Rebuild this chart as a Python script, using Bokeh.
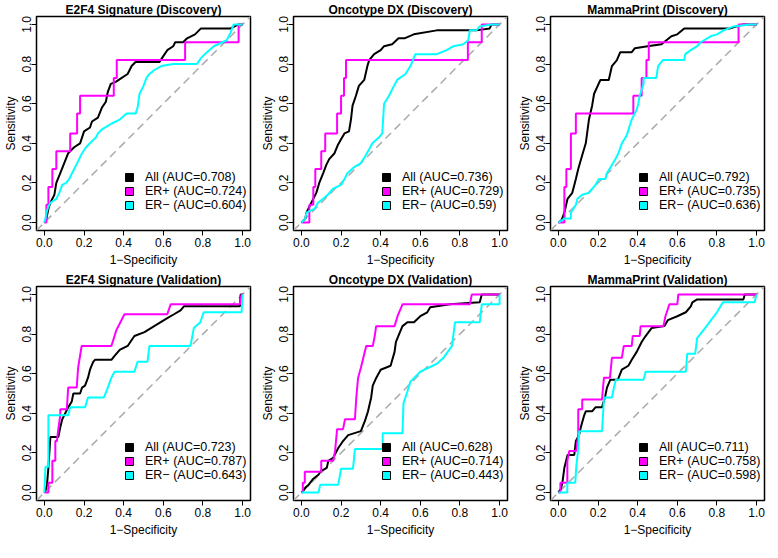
import numpy as np
from bokeh.plotting import figure
from bokeh.layouts import column, row
from bokeh.models import Legend, LegendItem, Slope, Range1d, FixedTicker, PrintfTickFormatter
from bokeh.embed import file_html
from bokeh.resources import INLINE

FONT = "Liberation Sans"
GROUP_NAMES = ["All", "ER+", "ER\u2212"]
GROUP_COLORS = ["black", "#ff00ff", "#00ffff"]
TICKS = [0.0, 0.2, 0.4, 0.6, 0.8, 1.0]

TITLES = [
    "E2F4 Signature (Discovery)", "Oncotype DX (Discovery)", "MammaPrint (Discovery)",
    "E2F4 Signature (Validation)", "Oncotype DX (Validation)", "MammaPrint (Validation)",
]
AUC_E2F4_DISC = ["0.708", "0.724", "0.604"]
AUC_ONCO_DISC = ["0.736", "0.729", "0.59"]
AUC_MAMMA_DISC = ["0.792", "0.735", "0.636"]
AUC_E2F4_VAL = ["0.723", "0.787", "0.643"]
AUC_ONCO_VAL = ["0.628", "0.714", "0.443"]
AUC_MAMMA_VAL = ["0.711", "0.758", "0.598"]

# ROC curves as (1-specificity, sensitivity) vertices
E2F4_DISC_ALL = [(0.0,0.0),(0.01,0.02),(0.02,0.07),(0.03,0.1),(0.05,0.14),(0.06,0.2),(0.08,0.25),(0.1,0.3),(0.12,0.35),(0.15,0.38),(0.18,0.4),(0.19,0.43),(0.2,0.46),(0.23,0.48),(0.24,0.51),(0.27,0.53),(0.29,0.58),(0.31,0.61),(0.32,0.66),(0.335,0.7),(0.36,0.71),(0.39,0.73),(0.42,0.75),(0.44,0.79),(0.46,0.81),(0.58,0.81),(0.6,0.84),(0.62,0.87),(0.65,0.89),(0.66,0.91),(0.7,0.91),(0.72,0.93),(0.76,0.95),(0.79,0.98),(0.94,0.98),(0.98,1.0),(1.0,1.0)]
E2F4_DISC_ERP = [(0.0,0.0),(0.01,0.0),(0.01,0.09),(0.02,0.09),(0.02,0.18),(0.04,0.18),(0.04,0.27),(0.06,0.27),(0.06,0.36),(0.13,0.36),(0.13,0.45),(0.165,0.45),(0.165,0.55),(0.18,0.55),(0.18,0.64),(0.35,0.64),(0.35,0.73),(0.365,0.73),(0.365,0.82),(0.71,0.82),(0.71,0.91),(0.98,0.91),(0.98,1.0),(1.0,1.0)]
E2F4_DISC_ERN = [(0.0,0.0),(0.005,0.02),(0.01,0.05),(0.02,0.08),(0.03,0.1),(0.06,0.12),(0.075,0.15),(0.09,0.19),(0.11,0.2),(0.125,0.22),(0.14,0.25),(0.16,0.29),(0.175,0.32),(0.19,0.35),(0.21,0.38),(0.23,0.4),(0.26,0.43),(0.27,0.45),(0.29,0.47),(0.34,0.5),(0.38,0.52),(0.415,0.55),(0.46,0.55),(0.47,0.58),(0.48,0.65),(0.5,0.69),(0.515,0.73),(0.53,0.75),(0.555,0.77),(0.59,0.79),(0.65,0.8),(0.77,0.8),(0.79,0.83),(0.82,0.86),(0.855,0.89),(0.92,0.92),(0.94,0.96),(0.955,1.0),(1.0,1.0)]

ONCO_DISC_ALL = [(0.0,0.0),(0.02,0.02),(0.025,0.05),(0.05,0.1),(0.075,0.15),(0.09,0.2),(0.11,0.25),(0.125,0.29),(0.14,0.32),(0.167,0.35),(0.183,0.39),(0.2,0.42),(0.217,0.45),(0.24,0.46),(0.25,0.52),(0.258,0.59),(0.275,0.64),(0.29,0.69),(0.317,0.72),(0.333,0.79),(0.342,0.82),(0.367,0.85),(0.4,0.87),(0.417,0.89),(0.458,0.9),(0.49,0.93),(0.52,0.93),(0.567,0.95),(0.683,0.97),(0.883,0.97),(0.95,0.98),(0.96,1.0),(1.0,1.0)]
ONCO_DISC_ERP = [(0.0,0.0),(0.04,0.0),(0.04,0.09),(0.06,0.09),(0.06,0.18),(0.07,0.18),(0.07,0.27),(0.1,0.27),(0.1,0.36),(0.12,0.36),(0.12,0.45),(0.18,0.45),(0.18,0.55),(0.2,0.55),(0.2,0.64),(0.215,0.64),(0.215,0.73),(0.225,0.73),(0.225,0.82),(0.84,0.82),(0.84,0.91),(0.91,0.91),(0.91,1.0),(1.0,1.0)]
ONCO_DISC_ERN = [(0.0,0.0),(0.02,0.02),(0.025,0.05),(0.067,0.07),(0.083,0.1),(0.11,0.12),(0.133,0.14),(0.158,0.17),(0.2,0.19),(0.217,0.22),(0.233,0.25),(0.267,0.28),(0.3,0.3),(0.325,0.34),(0.342,0.37),(0.358,0.4),(0.392,0.43),(0.408,0.45),(0.417,0.6),(0.442,0.64),(0.467,0.69),(0.483,0.72),(0.525,0.75),(0.55,0.79),(0.575,0.85),(0.683,0.85),(0.733,0.87),(0.767,0.89),(0.817,0.9),(0.842,0.92),(0.85,0.97),(0.883,0.97),(0.9,0.99),(0.958,1.0),(1.0,1.0)]

MAMMA_DISC_ALL = [(0.0,0.0),(0.015,0.01),(0.03,0.05),(0.046,0.12),(0.07,0.15),(0.088,0.22),(0.1,0.27),(0.12,0.34),(0.138,0.4),(0.154,0.52),(0.17,0.59),(0.18,0.65),(0.212,0.72),(0.254,0.72),(0.27,0.79),(0.295,0.82),(0.312,0.86),(0.37,0.86),(0.386,0.88),(0.45,0.89),(0.52,0.9),(0.57,0.94),(0.6,0.95),(0.635,0.98),(0.867,0.98),(0.93,1.0),(1.0,1.0)]
MAMMA_DISC_ERP = [(0.0,0.0),(0.03,0.0),(0.03,0.18),(0.04,0.18),(0.04,0.27),(0.063,0.27),(0.063,0.45),(0.088,0.45),(0.088,0.55),(0.378,0.55),(0.378,0.64),(0.42,0.64),(0.42,0.73),(0.444,0.73),(0.444,0.82),(0.456,0.82),(0.456,0.91),(0.909,0.91),(0.909,1.0),(1.0,1.0)]
MAMMA_DISC_ERN = [(0.0,0.0),(0.03,0.02),(0.063,0.02),(0.063,0.05),(0.088,0.09),(0.096,0.12),(0.12,0.14),(0.154,0.15),(0.187,0.19),(0.204,0.22),(0.237,0.22),(0.245,0.25),(0.27,0.29),(0.287,0.32),(0.303,0.35),(0.32,0.4),(0.345,0.44),(0.36,0.49),(0.37,0.52),(0.395,0.57),(0.403,0.6),(0.41,0.64),(0.43,0.7),(0.43,0.73),(0.494,0.73),(0.503,0.79),(0.527,0.82),(0.635,0.82),(0.64,0.85),(0.668,0.87),(0.7,0.89),(0.718,0.91),(0.768,0.94),(0.8,0.95),(0.834,0.97),(0.884,0.99),(0.967,1.0),(1.0,1.0)]

E2F4_VAL_ALL = [(0.0,0.0),(0.005,0.01),(0.013,0.04),(0.02,0.125),(0.03,0.28),(0.07,0.28),(0.08,0.33),(0.09,0.37),(0.105,0.4),(0.12,0.43),(0.138,0.46),(0.146,0.5),(0.18,0.5),(0.19,0.53),(0.205,0.54),(0.22,0.58),(0.23,0.62),(0.246,0.66),(0.255,0.67),(0.338,0.67),(0.354,0.69),(0.38,0.72),(0.42,0.74),(0.454,0.79),(0.505,0.81),(0.554,0.84),(0.587,0.86),(0.62,0.88),(0.654,0.9),(0.687,0.92),(0.704,0.94),(0.987,0.94),(0.99,1.0),(1.0,1.0)]
E2F4_VAL_ERP = [(0.0,0.0),(0.02,0.0),(0.02,0.05),(0.04,0.05),(0.04,0.16),(0.055,0.16),(0.055,0.26),(0.063,0.26),(0.07,0.32),(0.08,0.39),(0.08,0.42),(0.113,0.42),(0.12,0.53),(0.163,0.53),(0.17,0.63),(0.188,0.74),(0.338,0.74),(0.363,0.82),(0.404,0.9),(0.62,0.9),(0.637,0.95),(0.987,0.95),(0.995,1.0),(1.0,1.0)]
E2F4_VAL_ERN = [(0.0,0.0),(0.005,0.13),(0.02,0.13),(0.02,0.39),(0.12,0.39),(0.13,0.43),(0.205,0.43),(0.22,0.48),(0.3,0.48),(0.32,0.53),(0.338,0.58),(0.354,0.61),(0.454,0.61),(0.47,0.66),(0.52,0.66),(0.53,0.74),(0.737,0.74),(0.754,0.83),(0.787,0.86),(0.804,0.91),(0.995,0.91),(1.0,1.0)]

ONCO_VAL_ALL = [(0.0,0.0),(0.01,0.01),(0.02,0.025),(0.037,0.04),(0.06,0.07),(0.086,0.09),(0.1,0.11),(0.128,0.125),(0.136,0.16),(0.16,0.175),(0.186,0.225),(0.21,0.26),(0.236,0.29),(0.3,0.31),(0.32,0.36),(0.336,0.41),(0.352,0.48),(0.36,0.54),(0.378,0.58),(0.4,0.62),(0.45,0.64),(0.47,0.71),(0.477,0.76),(0.493,0.8),(0.51,0.84),(0.535,0.86),(0.568,0.86),(0.6,0.89),(0.635,0.91),(0.65,0.935),(0.75,0.95),(0.9,0.96),(0.91,1.0),(1.0,1.0)]
ONCO_VAL_ERP = [(0.0,0.0),(0.007,0.0),(0.007,0.05),(0.017,0.05),(0.017,0.105),(0.1,0.105),(0.1,0.16),(0.16,0.16),(0.17,0.21),(0.18,0.32),(0.21,0.32),(0.22,0.37),(0.27,0.37),(0.277,0.48),(0.286,0.58),(0.3,0.63),(0.327,0.74),(0.36,0.74),(0.37,0.79),(0.377,0.84),(0.47,0.84),(0.485,0.89),(0.51,0.95),(0.85,0.95),(0.86,1.0),(1.0,1.0)]
ONCO_VAL_ERN = [(0.0,0.0),(0.086,0.0),(0.095,0.04),(0.186,0.04),(0.2,0.12),(0.26,0.12),(0.27,0.22),(0.41,0.22),(0.41,0.3),(0.51,0.3),(0.515,0.45),(0.535,0.51),(0.55,0.56),(0.6,0.61),(0.684,0.65),(0.717,0.68),(0.76,0.74),(0.775,0.86),(0.9,0.86),(0.91,0.95),(1.0,0.95),(1.0,1.0)]

MAMMA_VAL_ALL = [(0.0,0.0),(0.013,0.02),(0.02,0.05),(0.03,0.125),(0.046,0.19),(0.08,0.19),(0.088,0.26),(0.104,0.29),(0.113,0.33),(0.13,0.39),(0.138,0.41),(0.17,0.41),(0.187,0.43),(0.22,0.43),(0.237,0.49),(0.245,0.53),(0.262,0.57),(0.3,0.57),(0.32,0.62),(0.353,0.64),(0.37,0.67),(0.395,0.71),(0.42,0.76),(0.44,0.79),(0.47,0.83),(0.535,0.84),(0.552,0.87),(0.6,0.89),(0.643,0.91),(0.668,0.94),(0.676,0.96),(0.7,0.975),(0.934,0.975),(0.94,1.0),(1.0,1.0)]
MAMMA_VAL_ERP = [(0.0,0.0),(0.01,0.0),(0.01,0.05),(0.045,0.05),(0.045,0.16),(0.055,0.21),(0.09,0.21),(0.1,0.29),(0.1,0.42),(0.12,0.42),(0.12,0.47),(0.22,0.47),(0.225,0.53),(0.23,0.58),(0.26,0.58),(0.27,0.68),(0.32,0.68),(0.33,0.74),(0.37,0.74),(0.375,0.79),(0.41,0.79),(0.415,0.84),(0.53,0.84),(0.54,0.89),(0.56,0.95),(0.6,0.95),(0.605,1.0),(1.0,1.0)]
MAMMA_VAL_ERN = [(0.0,0.0),(0.045,0.0),(0.045,0.05),(0.085,0.05),(0.09,0.13),(0.1,0.22),(0.105,0.31),(0.22,0.31),(0.23,0.48),(0.27,0.48),(0.28,0.53),(0.29,0.57),(0.43,0.57),(0.44,0.61),(0.643,0.61),(0.65,0.7),(0.69,0.7),(0.7,0.78),(0.74,0.83),(0.77,0.87),(0.8,0.91),(0.83,0.96),(0.99,0.96),(1.0,1.0)]

PANELS = [
    (TITLES[0], [E2F4_DISC_ALL, E2F4_DISC_ERP, E2F4_DISC_ERN], AUC_E2F4_DISC),
    (TITLES[1], [ONCO_DISC_ALL, ONCO_DISC_ERP, ONCO_DISC_ERN], AUC_ONCO_DISC),
    (TITLES[2], [MAMMA_DISC_ALL, MAMMA_DISC_ERP, MAMMA_DISC_ERN], AUC_MAMMA_DISC),
    (TITLES[3], [E2F4_VAL_ALL, E2F4_VAL_ERP, E2F4_VAL_ERN], AUC_E2F4_VAL),
    (TITLES[4], [ONCO_VAL_ALL, ONCO_VAL_ERP, ONCO_VAL_ERN], AUC_ONCO_VAL),
    (TITLES[5], [MAMMA_VAL_ALL, MAMMA_VAL_ERP, MAMMA_VAL_ERN], AUC_MAMMA_VAL),
]


def make_panel(title, curves, aucs):
    p = figure(frame_width=214, frame_height=214,
               x_range=Range1d(-0.04, 1.04), y_range=Range1d(-0.04, 1.04),
               output_backend="svg", toolbar_location=None,
               min_border_left=33, min_border_right=7,
               min_border_top=15, min_border_bottom=40,
               background_fill_color="white", border_fill_color="white")
    p.title.text = title
    p.title.align = "center"
    p.title.text_font = FONT
    p.title.text_font_size = "12px"
    p.title.text_font_style = "bold"
    p.title.text_color = "black"
    p.title.standoff = 0
    p.outline_line_color = "black"
    p.outline_line_width = 1.5
    p.outline_line_alpha = 1.0
    p.xgrid.visible = False
    p.ygrid.visible = False

    for ax in (p.xaxis[0], p.yaxis[0]):
        ax.ticker = FixedTicker(ticks=TICKS)
        ax.formatter = PrintfTickFormatter(format="%.1f")
        ax.axis_line_color = None
        ax.major_tick_in = 0
        ax.major_tick_out = 5
        ax.major_tick_line_color = "black"
        ax.minor_tick_line_color = None
        ax.major_label_text_font = FONT
        ax.major_label_text_font_size = "12px"
        ax.major_label_text_color = "black"
        ax.axis_label_text_font = FONT
        ax.axis_label_text_font_size = "12px"
        ax.axis_label_text_font_style = "normal"
        ax.axis_label_text_color = "black"
    p.xaxis.axis_label = "1\u2212Specificity"
    p.yaxis.axis_label = "Sensitivity"
    p.xaxis.major_label_standoff = 2
    p.xaxis.axis_label_standoff = 3
    p.yaxis.major_label_orientation = "vertical"
    p.yaxis.major_label_standoff = 0
    p.yaxis.axis_label_standoff = 2

    p.add_layout(Slope(gradient=1, y_intercept=0, line_color="#aaaaaa",
                       line_dash="8 5", line_width=1.5, level="underlay"))

    items = []
    for pts, color, name, auc in zip(curves, GROUP_COLORS, GROUP_NAMES, aucs):
        xs = [pt[0] for pt in pts]
        ys = [pt[1] for pt in pts]
        p.line(xs, ys, line_color=color, line_width=2)
        # legend key only: a quad with no drawable extent
        nan = np.array([np.nan])
        key = p.quad(left=nan, right=nan, top=nan, bottom=nan, fill_color=color,
                     line_color="black", line_width=1)
        items.append(LegendItem(label=f"{name} (AUC={auc})", renderers=[key]))

    legend = Legend(items=items, location=(88, 18), margin=0, padding=0,
                    spacing=0, glyph_width=10, glyph_height=10, label_height=13,
                    label_standoff=11, label_text_font=FONT, label_text_font_size="12.5px",
                    label_text_color="black",
                    border_line_color=None, background_fill_alpha=0.0)
    p.add_layout(legend)
    return p


figs = [make_panel(*panel) for panel in PANELS]
layout = column(row(*figs[:3]), row(*figs[3:]))
open("out.html", "w").write(file_html(layout, INLINE))
